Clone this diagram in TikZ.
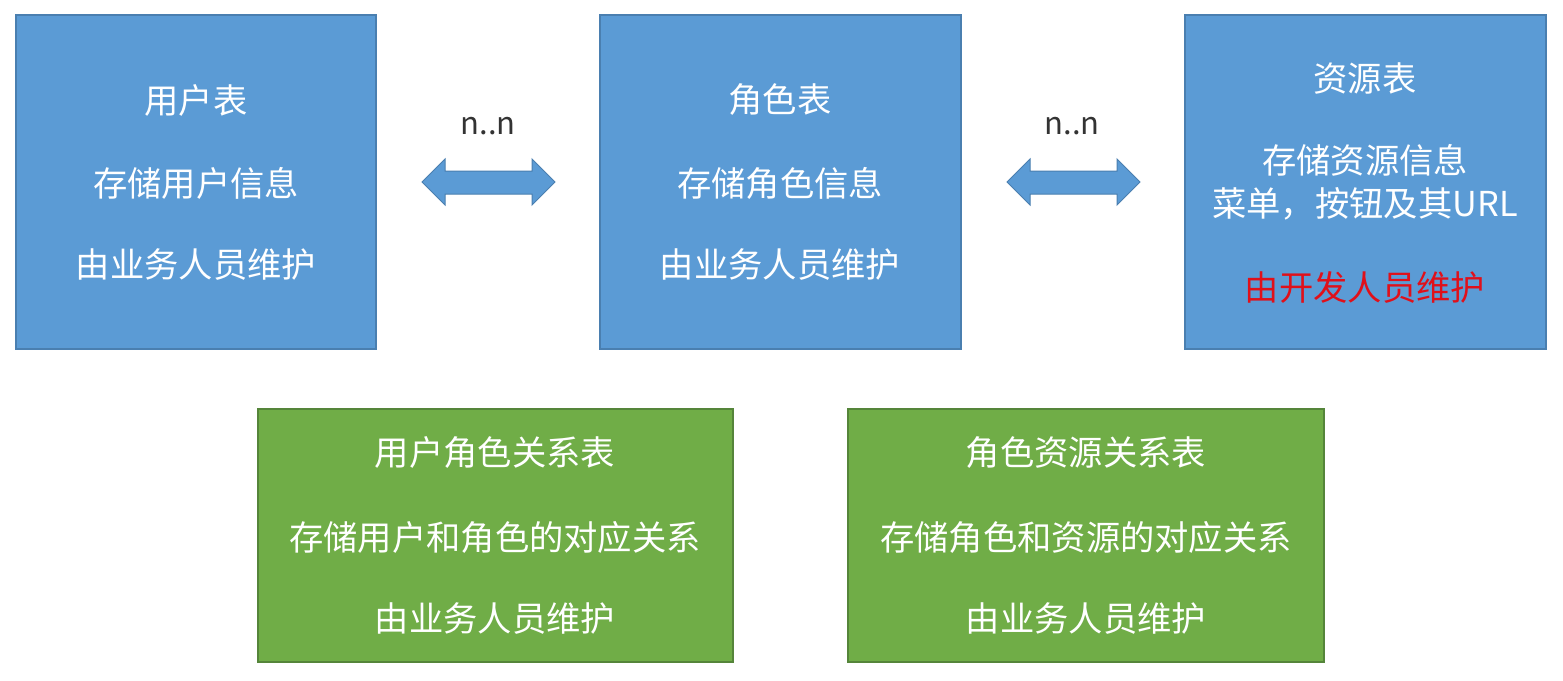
\documentclass[tikz,border=0pt]{standalone}
\usepackage{fontspec}
\setmainfont{Noto Sans CJK SC}
\begin{document}
\begin{tikzpicture}[x=1pt,y=-1pt,
  bluebox/.style={draw=blueedge,fill=bluefill,line width=1.2pt},
  greenbox/.style={draw=greenedge,fill=greenfill,line width=1.2pt},
  txt/.style={text=white,font=\fontsize{34.3}{40}\selectfont,anchor=center,inner sep=0pt},
  lbl/.style={text=black!80,font=\fontsize{31}{36}\selectfont,anchor=center,inner sep=0pt},
  arrowshape/.style={draw=blueedge,fill=bluefill,line width=1pt,line join=miter}]
\definecolor{bluefill}{HTML}{5B9BD5}
\definecolor{blueedge}{HTML}{4A7FB0}
\definecolor{greenfill}{HTML}{70AD47}
\definecolor{greenedge}{HTML}{55853A}
\definecolor{redtxt}{HTML}{E0101A}
\useasboundingbox (0,0) rectangle (1563,680);
\fill[white] (0,0) rectangle (1563,680);
% blue boxes
\draw[bluebox] (16,15) rectangle (376,349);
\draw[bluebox] (600,15) rectangle (961,349);
\draw[bluebox] (1185,15) rectangle (1546,349);
% green boxes
\draw[greenbox] (258,409) rectangle (733,662);
\draw[greenbox] (848,409) rectangle (1324,662);
% user table
\node[txt] (u1) at (196,100) {用户表};
\node[txt] (u2) at (196,183) {存储用户信息};
\node[txt] (u3) at (196,265) {由业务人员维护};
% role table
\node[txt] (r1) at (780,100) {角色表};
\node[txt] (r2) at (780,183) {存储角色信息};
\node[txt] (r3) at (780,265) {由业务人员维护};
% resource table
\node[txt] (s1) at (1365,78) {资源表};
\node[txt] (s2) at (1365,160) {存储资源信息};
\node[txt] (s3) at (1365,204) {菜单，按钮及其URL};
\node[txt,text=redtxt] (s4) at (1365,287) {由开发人员维护};
% user-role relation
\node[txt] (ur1) at (495,453) {用户角色关系表};
\node[txt] (ur2) at (495,537) {存储用户和角色的对应关系};
\node[txt] (ur3) at (495,619) {由业务人员维护};
% role-resource relation
\node[txt] (rr1) at (1086,453) {角色资源关系表};
\node[txt] (rr2) at (1086,537) {存储角色和资源的对应关系};
\node[txt] (rr3) at (1086,619) {由业务人员维护};
% labels
\node[lbl] (n1) at (488,126) {n..n};
\node[lbl] (n2) at (1072,126) {n..n};
% double arrows
\draw[arrowshape] (422,182) -- (445,159) -- (445,171) -- (532,171) -- (532,159) -- (555,182)
  -- (532,205) -- (532,194) -- (445,194) -- (445,205) -- cycle;
\draw[arrowshape] (1007,182) -- (1030,159) -- (1030,171) -- (1117,171) -- (1117,159) -- (1140,182)
  -- (1117,205) -- (1117,194) -- (1030,194) -- (1030,205) -- cycle;
\end{tikzpicture}
\end{document}
